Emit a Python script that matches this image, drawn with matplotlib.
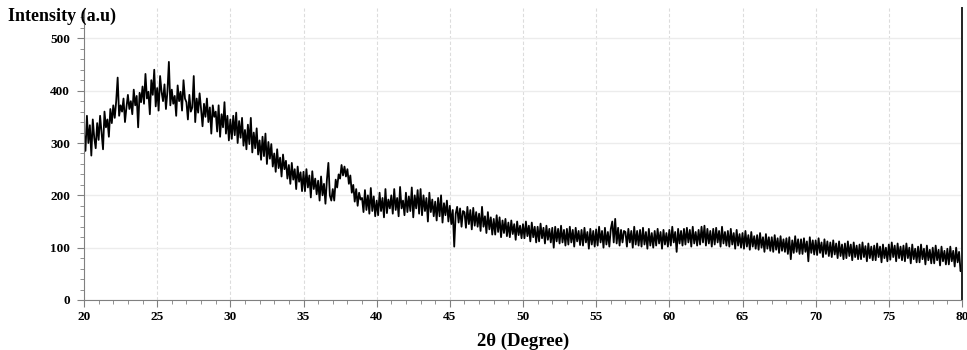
import numpy as np
import matplotlib
matplotlib.use("Agg")
import matplotlib.pyplot as plt
from matplotlib.ticker import MultipleLocator

# 2-theta from 20 to 80 in 0.1 degree steps
two_theta_start = 20.0
two_theta_step = 0.1

# Intensity values, one row per degree (20.0 ... 79.9), then 80.0
intensity = [
    318, 285, 352, 300, 334, 276, 345, 310, 290, 338,   # 20
    306, 352, 321, 288, 360, 330, 345, 312, 365, 338,   # 21
    372, 348, 380, 425, 352, 372, 360, 385, 340, 368,   # 22
    392, 365, 380, 355, 402, 372, 390, 330, 396, 378,   # 23
    408, 375, 432, 385, 398, 355, 420, 392, 440, 370,   # 24
    405, 362, 428, 398, 380, 412, 365, 398, 455, 372,   # 25
    402, 375, 390, 352, 410, 380, 398, 362, 420, 385,   # 26
    378, 345, 392, 360, 368, 428, 340, 385, 358, 395,   # 27
    365, 332, 375, 350, 385, 340, 368, 318, 372, 350,   # 28
    360, 322, 372, 312, 355, 330, 378, 318, 352, 305,   # 29
    345, 308, 352, 315, 358, 300, 342, 310, 348, 295,   # 30
    325, 288, 335, 298, 348, 282, 320, 290, 328, 278,   # 31
    305, 268, 312, 275, 318, 260, 302, 270, 298, 255,   # 32
    280, 245, 288, 252, 272, 236, 278, 250, 266, 232,   # 33
    258, 222, 262, 230, 250, 212, 255, 226, 244, 208,   # 34
    245, 208, 250, 215, 238, 196, 246, 212, 232, 202,   # 35
    228, 190, 236, 200, 222, 184, 230, 262, 200, 190,   # 36
    212, 190, 230, 215, 240, 232, 258, 238, 255, 236,   # 37
    250, 222, 238, 205, 220, 188, 212, 180, 205, 192,   # 38
    195, 168, 210, 172, 200, 165, 214, 170, 198, 160,   # 39
    190, 162, 205, 170, 195, 158, 212, 166, 192, 175,   # 40
    200, 165, 212, 172, 195, 160, 216, 175, 190, 162,   # 41
    205, 168, 198, 170, 215, 158, 200, 175, 210, 165,   # 42
    212, 162, 200, 170, 195, 150, 205, 168, 192, 160,   # 43
    188, 152, 195, 160, 200, 148, 185, 162, 190, 150,   # 44
    180, 145, 172, 102, 165, 178, 148, 175, 140, 170,   # 45
    168, 138, 178, 145, 172, 135, 176, 142, 168, 140,   # 46
    165, 132, 178, 140, 160, 128, 168, 135, 158, 125,   # 47
    155, 125, 162, 130, 158, 120, 152, 128, 155, 122,   # 48
    148, 120, 152, 126, 145, 115, 150, 124, 142, 118,   # 49
    145, 118, 150, 122, 142, 112, 148, 120, 140, 110,   # 50
    140, 112, 146, 118, 138, 108, 142, 115, 136, 110,   # 51
    138, 100, 140, 112, 136, 108, 142, 110, 134, 104,   # 52
    136, 106, 140, 110, 134, 102, 138, 112, 132, 105,   # 53
    134, 104, 138, 110, 130, 98, 136, 106, 132, 102,    # 54
    135, 104, 140, 110, 132, 100, 138, 106, 130, 102,   # 55
    136, 150, 110, 155, 108, 138, 104, 134, 110, 132,   # 56
    130, 102, 136, 110, 132, 100, 140, 106, 132, 104,   # 57
    134, 102, 138, 106, 130, 98, 136, 104, 128, 100,    # 58
    132, 104, 136, 108, 130, 98, 134, 106, 128, 102,    # 59
    134, 104, 140, 110, 130, 92, 136, 108, 132, 104,    # 60
    136, 106, 138, 110, 134, 102, 140, 108, 130, 104,   # 61
    134, 106, 140, 110, 142, 104, 136, 108, 132, 102,   # 62
    136, 106, 138, 110, 132, 102, 140, 108, 130, 104,   # 63
    132, 102, 136, 106, 128, 98, 134, 104, 126, 100,    # 64
    128, 98, 132, 102, 124, 96, 130, 102, 122, 98,      # 65
    124, 96, 128, 100, 120, 92, 126, 98, 120, 94,       # 66
    120, 92, 124, 96, 118, 90, 122, 94, 116, 92,        # 67
    118, 88, 120, 78, 114, 90, 122, 92, 116, 88,        # 68
    116, 88, 118, 92, 112, 74, 120, 90, 114, 87,        # 69
    114, 86, 118, 90, 110, 82, 116, 88, 112, 84,        # 70
    110, 82, 114, 87, 108, 80, 112, 84, 106, 78,        # 71
    108, 80, 112, 84, 106, 76, 110, 82, 104, 78,        # 72
    106, 78, 110, 82, 103, 74, 108, 80, 102, 76,        # 73
    104, 76, 108, 82, 102, 72, 106, 80, 100, 74,        # 74
    106, 77, 110, 82, 104, 74, 108, 80, 102, 76,        # 75
    104, 74, 108, 80, 100, 70, 106, 78, 98, 72,         # 76
    102, 72, 106, 78, 98, 68, 104, 76, 96, 70,          # 77
    100, 70, 104, 76, 96, 66, 102, 74, 94, 68,          # 78
    98, 68, 102, 74, 94, 64, 100, 72, 92, 55,           # 79
    60,                                                  # 80
]

x_ticks = [20, 25, 30, 35, 40, 45, 50, 55, 60, 65, 70, 75, 80]
y_ticks = [0, 100, 200, 300, 400, 500]
x_label = "2θ (Degree)"
y_label = "Intensity (a.u)"

two_theta = two_theta_start + two_theta_step * np.arange(len(intensity))

plt.rcParams['font.family'] = ['Liberation Serif', 'DejaVu Serif']

fig = plt.figure(figsize=(9.67, 3.5), dpi=100)
ax = fig.add_axes([84/967, 1 - 300/350, (962 - 84)/967, (300 - 8)/350])

ax.plot(two_theta, intensity, color='black', lw=1.3)

ax.set_xlim(20, 80)
ax.set_ylim(0, 558)
ax.set_xticks(x_ticks)
ax.set_yticks(y_ticks)
ax.xaxis.set_minor_locator(MultipleLocator(1))
ax.yaxis.set_minor_locator(MultipleLocator(20))

ax.grid(axis='y', which='major', color='#ececec', lw=1, ls='-')
ax.grid(axis='x', which='major', color='#dcdcdc', lw=0.8, ls=(0, (3, 2)))
ax.set_axisbelow(True)

for lab in ax.get_xticklabels() + ax.get_yticklabels():
    lab.set_fontweight('bold')
    lab.set_fontsize(9.5)

ax.tick_params(which='major', direction='out', length=5, color='#808080')
ax.tick_params(axis='x', which='major', pad=3)
ax.tick_params(axis='y', which='major', pad=5)
ax.tick_params(which='minor', direction='out', length=3, color='#808080')

ax.spines['top'].set_visible(False)
ax.spines['left'].set_color('#808080')
ax.spines['bottom'].set_color('#808080')
ax.spines['right'].set_color('#222222')
ax.spines['right'].set_linewidth(1.4)

ax.set_xlabel(x_label, fontsize=13.5, fontweight='bold', labelpad=7)
fig.text(8/967, 1 - 16/350, y_label, fontsize=13, fontweight='bold', va='center', ha='left')

fig.savefig("out.png", dpi=100)
